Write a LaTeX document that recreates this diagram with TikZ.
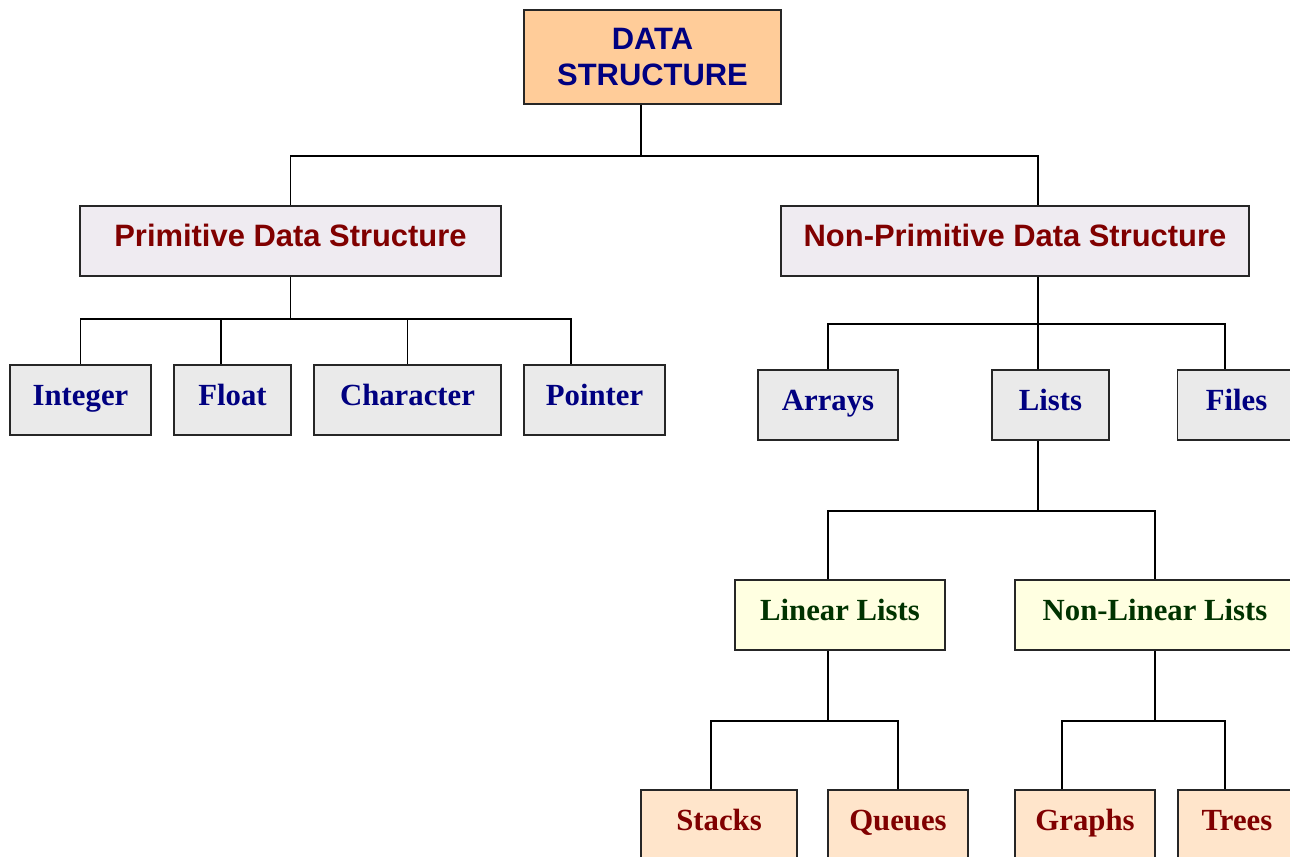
\documentclass[tikz,border=0pt]{standalone}
\usepackage{fontspec}
\setmainfont{Liberation Serif}
\setsansfont{Liberation Sans}
\usetikzlibrary{positioning,calc}
\definecolor{DSNavy}{HTML}{000080}
\definecolor{DSMaroon}{HTML}{800000}
\definecolor{DSGreen}{HTML}{003300}
\definecolor{DSPeach}{HTML}{FFCC99}
\definecolor{DSLilac}{HTML}{EFEBF1}
\definecolor{DSGray}{HTML}{EAEAEA}
\definecolor{DSCream}{HTML}{FFFFE1}
\definecolor{DSBisque}{HTML}{FFE5CB}

\begin{document}
\begin{tikzpicture}[
    x=0.02cm, y=-0.02cm,
    box/.style={draw=black!85, line width=1.1pt, inner sep=0pt, minimum height=1.4cm, align=center},
    rootbox/.style={box, fill=DSPeach, text=DSNavy, font=\sffamily\bfseries\fontsize{17.6}{20}\selectfont},
    catbox/.style={box, fill=DSLilac, text=DSMaroon, text height=13pt, text depth=7pt, font=\sffamily\bfseries\fontsize{17.6}{20}\selectfont},
    leafbox/.style={box, fill=DSGray, text=DSNavy, text height=11.5pt, text depth=5.3pt, font=\bfseries\fontsize{17.5}{21}\selectfont},
    listbox/.style={leafbox, fill=DSCream, text=DSGreen},
    endbox/.style={leafbox, fill=DSBisque, text=DSMaroon},
    link/.style={draw=black, line width=0.9pt}
]
  \useasboundingbox (0,0) rectangle (1290,856);
  \clip (0,0) rectangle (1290,856);

  % -------------------------------------------------------------
  % ROOT AND MAIN CATEGORIES
  % -------------------------------------------------------------
  \node[rootbox, minimum width=5.14cm, minimum height=1.88cm] (ds) at (652.5,57) {DATA\\STRUCTURE};
  \node[catbox, minimum width=8.42cm] (prim) at (290.5,241) {Primitive Data Structure};
  \node[catbox, minimum width=9.36cm] (nprim) at (1015,241) {Non-Primitive Data Structure};

  \draw[link] ([xshift=-0.23cm]ds.south) -- ++(0,51) coordinate (j0);
  \draw[link] (prim.north) |- (j0) -| ([xshift=0.46cm]nprim.north);

  % -------------------------------------------------------------
  % PRIMITIVE TYPES
  % -------------------------------------------------------------
  \node[leafbox, minimum width=2.82cm] (int) at (80.5,400) {Integer};
  \node[leafbox, minimum width=2.34cm] (flt) at (232.5,400) {Float};
  \node[leafbox, minimum width=3.74cm] (chr) at (407.5,400) {Character};
  \node[leafbox, minimum width=2.82cm] (ptr) at (594.5,400) {Pointer};

  \draw[link] (prim.south) -- ++(0,42) coordinate (j1);
  \draw[link] (int.north) |- ([xshift=-0.47cm]ptr.north |- j1) -- ([xshift=-0.47cm]ptr.north);
  \draw[link] ([xshift=-0.23cm]flt.north) -- ([xshift=-0.23cm]flt.north |- j1);
  \draw[link] (chr.north) -- (chr.north |- j1);

  % -------------------------------------------------------------
  % NON-PRIMITIVE TYPES
  % -------------------------------------------------------------
  \node[leafbox, minimum width=2.8cm] (arr) at (828,405) {Arrays};
  \node[leafbox, minimum width=2.34cm] (lst) at (1050.5,405) {Lists};
  \node[leafbox, minimum width=2.36cm] (fil) at (1236.5,405) {Files};

  \draw[link] ([xshift=0.46cm]nprim.south) -- ++(0,47) coordinate (j2);
  \draw[link] (arr.north) |- ([xshift=-0.23cm]fil.north |- j2) -- ([xshift=-0.23cm]fil.north);
  \draw[link] (j2) -- ([xshift=-0.25cm]lst.north);

  % Lists
  \node[listbox, minimum width=4.2cm] (lin) at (840,615) {Linear Lists};
  \node[listbox, minimum width=5.6cm] (nlin) at (1155,615) {Non-Linear Lists};

  \draw[link] ([xshift=-0.25cm]lst.south) -- ++(0,70) coordinate (j3);
  \draw[link] ([xshift=-0.24cm]lin.north) |- (j3) -| (nlin.north);

  % Linear / non-linear leaves
  \node[endbox, minimum width=3.12cm] (stk) at (719,825) {Stacks};
  \node[endbox, minimum width=2.8cm] (que) at (898,825) {Queues};
  \node[endbox, minimum width=2.8cm] (grf) at (1085,825) {Graphs};
  \node[endbox, minimum width=2.36cm] (tre) at (1237,825) {Trees};

  \draw[link] ([xshift=-0.24cm]lin.south) -- ++(0,70) coordinate (j4);
  \draw[link] ([xshift=-0.16cm]stk.north) |- (j4) -| (que.north);
  \draw[link] (nlin.south) -- ++(0,70) coordinate (j5);
  \draw[link] ([xshift=-0.46cm]grf.north) |- (j5) -| ([xshift=-0.24cm]tre.north);

\end{tikzpicture}
\end{document}
